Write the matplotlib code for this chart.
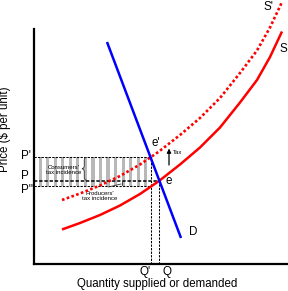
import numpy as np
import matplotlib
matplotlib.use("Agg")
import matplotlib.pyplot as plt
from matplotlib.path import Path
from matplotlib.patches import PathPatch

plt.rcParams['font.family'] = ['Liberation Sans', 'DejaVu Sans']

# ---- data ----
supply_q = [2.8, 4.6, 6.6, 8.6, 10.6, 12.5, 14.6, 16.6, 18.6, 20.6, 22.3, 23.6, 24.8]
supply_p = [3.45, 4.1, 4.9, 5.85, 7.0, 8.3, 9.95, 11.65, 13.65, 16.15, 18.4, 20.7, 23.25]
supply_tax_p = [6.4, 7.05, 7.85, 8.8, 9.95, 11.25, 12.9, 14.6, 16.6, 19.1, 21.35, 23.65, 26.2]
demand_q = [7.3, 14.7]
demand_p = [22.2, 2.6]
Q_tax, Q_eq = 11.67, 12.5
P_cons, P_eq, P_prod = 10.72, 8.33, 7.85

RED = '#ff0000'
BLUE = '#0000ff'

fig = plt.figure(figsize=(2.88, 2.91), dpi=100)
ax = fig.add_axes([34 / 288, 27 / 291, 254 / 288, 235 / 291])
ax.set_xlim(0, 25.4)
ax.set_ylim(0, 23.5)
for s in ('top', 'right'):
    ax.spines[s].set_visible(False)
for s in ('left', 'bottom'):
    ax.spines[s].set_linewidth(1.6)
ax.set_xticks([])
ax.set_yticks([])

# striped tax-revenue band
stripe_x = np.arange(0.45, Q_tax - 0.3, 0.755)
ax.bar(stripe_x, P_cons - P_prod, bottom=P_prod, width=0.32, align='edge',
       color='#b8b8b8', lw=0, zorder=1)

# dashed guide lines
dash = (0, (2.2, 1.2))
ax.plot([0, Q_tax], [P_cons, P_cons], color='k', ls=dash, lw=0.75, zorder=2)
ax.plot([0, Q_eq], [P_eq, P_eq], color='k', ls=dash, lw=1.1, zorder=2)
ax.plot([0, Q_tax], [P_prod, P_prod], color='k', ls=dash, lw=0.75, zorder=2)
ax.plot([Q_tax, Q_tax], [0, P_cons], color='k', ls=dash, lw=0.75, zorder=2)
ax.plot([Q_eq, Q_eq], [0, P_eq], color='k', ls=dash, lw=0.75, zorder=2)

# curves
ax.plot(supply_q, supply_p, color=RED, lw=1.8, zorder=4, clip_on=False,
        solid_capstyle='butt')
ax.plot(supply_q, supply_tax_p, color=RED, lw=1.9, ls=(0, (1, 0.9)), zorder=4,
        clip_on=False, dash_capstyle='butt')
ax.plot(demand_q, demand_p, color=BLUE, lw=1.8, zorder=5, solid_capstyle='butt')

# brace for consumers' incidence
def brace(x, y0, y1, w, h):
    ym = (y0 + y1) / 2
    verts = [(x, y1), (x - w / 2, y1), (x - w / 2, y1 - h),
             (x - w / 2, ym + h), (x - w / 2, ym), (x - w, ym),
             (x - w / 2, ym), (x - w / 2, ym - h),
             (x - w / 2, y0 + h), (x - w / 2, y0), (x, y0)]
    codes = [Path.MOVETO, Path.CURVE3, Path.CURVE3, Path.LINETO,
             Path.CURVE3, Path.CURVE3, Path.CURVE3, Path.CURVE3,
             Path.LINETO, Path.CURVE3, Path.CURVE3]
    ax.add_patch(PathPatch(Path(verts, codes), fill=False, lw=0.6,
                           edgecolor='#333333', zorder=3))

brace(5.25, P_eq + 0.05, P_cons - 0.05, 0.45, 0.3)
# small marker for producers' incidence
ax.plot([7.45, 8.7], [7.7, 8.0], color='#333333', lw=0.6, zorder=3)
ax.plot([8.75, 8.75], [P_prod + 0.02, P_eq - 0.05], color='#333333', lw=0.6, zorder=3)

# tax arrow
ax.annotate('', xy=(13.5, 11.55), xytext=(13.5, 9.9),
            arrowprops=dict(arrowstyle='-|>', color='k', lw=0.9,
                            mutation_scale=6, shrinkA=0, shrinkB=0))
ax.text(13.85, 11.1, 'Tax', fontsize=4.3, va='center', ha='left')

# small annotation texts
ax.text(3.0, 9.4, "Consumers'\ntax incidence", fontsize=4.3, ha='center',
        va='center', linespacing=1.2)
ax.text(6.6, 6.8, "Producers'\ntax incidence", fontsize=4.3, ha='center',
        va='center', linespacing=1.2)

# labels
fs = 8.4
ax.text(-1.35, P_cons + 0.05, "P'", fontsize=fs, ha='left', va='center', clip_on=False)
ax.text(-1.35, P_eq + 0.5, "P", fontsize=fs, ha='left', va='center', clip_on=False)
ax.text(-1.35, P_prod - 0.48, "P''", fontsize=fs, ha='left', va='center', clip_on=False)
ax.text(Q_tax - 0.05, -0.75, "Q'", fontsize=fs, ha='right', va='center', clip_on=False)
ax.text(Q_eq + 0.35, -0.75, "Q", fontsize=fs, ha='left', va='center', clip_on=False)
ax.text(12.15, 12.1, "e'", fontsize=fs, ha='center', va='center')
ax.text(13.5, 8.3, "e", fontsize=fs, ha='center', va='center')
ax.text(15.9, 3.2, "D", fontsize=fs, ha='center', va='center')
ax.text(24.9, 21.5, "S", fontsize=fs, ha='center', va='center', clip_on=False)
ax.text(23.45, 25.73, "S'", fontsize=fs, ha='center', va='center', clip_on=False)

ax.text(12.3, -2.0, "Quantity supplied or demanded", fontsize=8.3,
        ha='center', va='center', clip_on=False)
ax.text(-2.9, 13.45, "Price ($ per unit)", fontsize=8.3, rotation=90,
        ha='center', va='center', clip_on=False)

fig.savefig('out.png', dpi=100)
